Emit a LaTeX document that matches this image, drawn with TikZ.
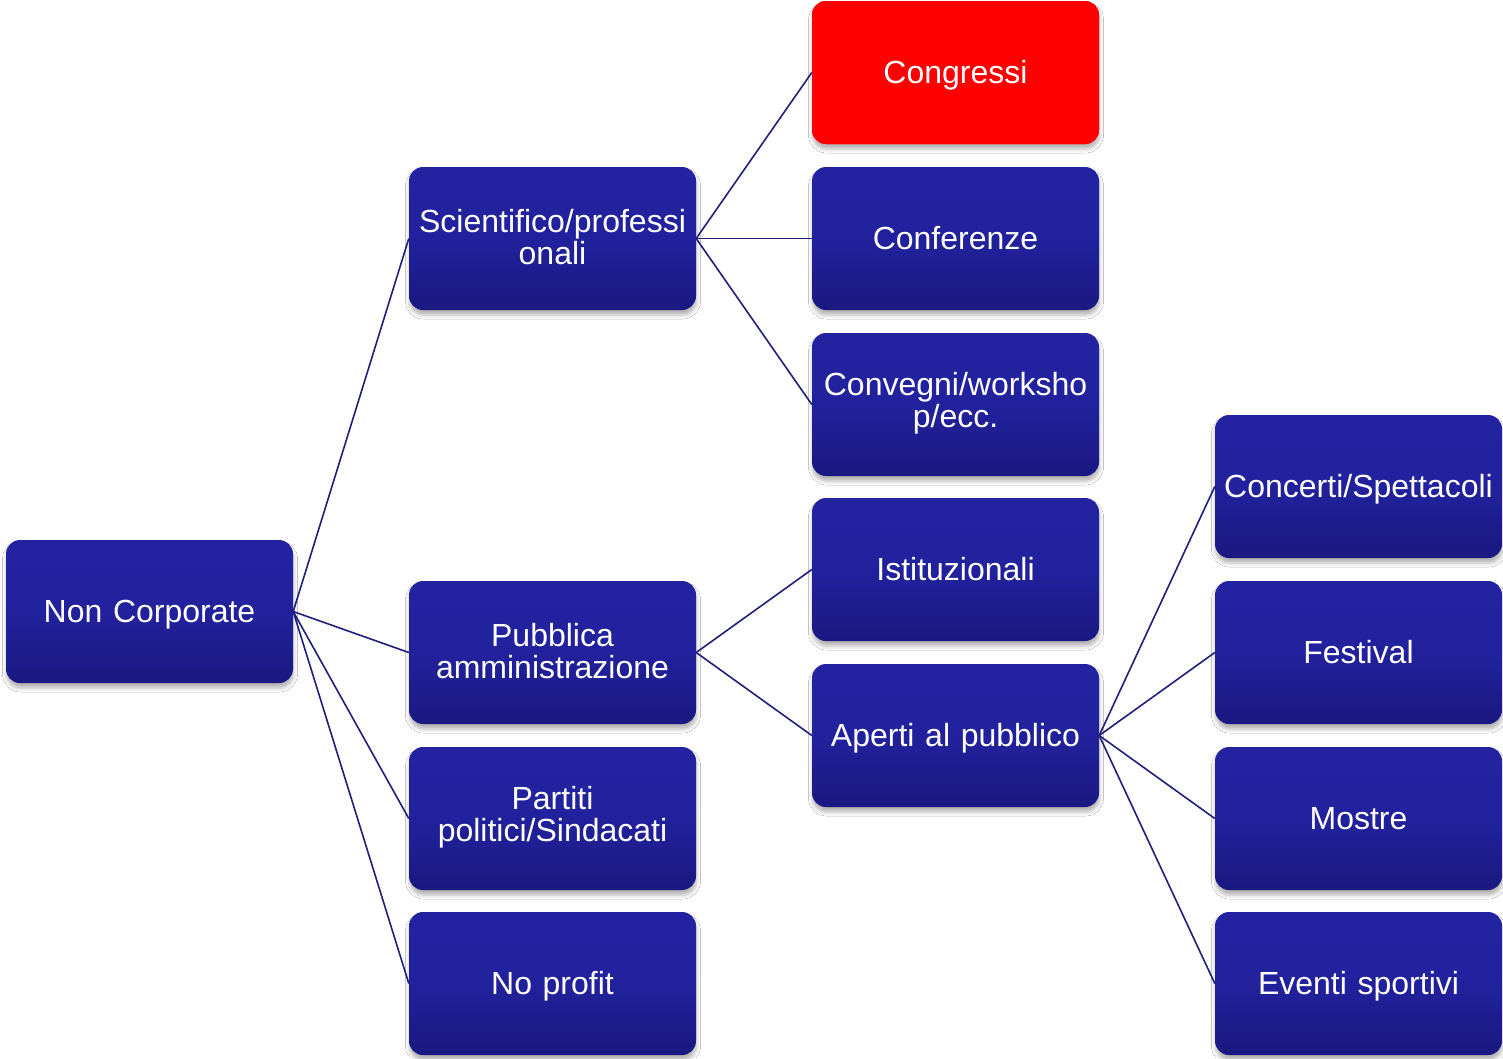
\documentclass[tikz,border=0pt]{standalone}
\usepackage{fontspec}
\setmainfont{Liberation Sans}
\usetikzlibrary{shadows.blur}
\definecolor{boxtop}{HTML}{2323A2}
\definecolor{boxbot}{HTML}{1A1880}
\definecolor{linkcol}{HTML}{20207A}
\definecolor{hotred}{HTML}{FF0000}
% a box with a one-line caption, on a baseline just below the centre
\newcommand\catbox[4][]{%
  \node[box,#1] (#2) at (#3) {};
  \node[boxtext, anchor=base] (#2-txt) at ([yshift=-10.5pt]#2.center) {#4};}
% a box with a two-line caption
\newcommand\catboxtwo[4][]{%
  \node[box,#1] (#2) at (#3) {};
  \node[boxtext] (#2-txt) at ([yshift=1.5pt]#2.center) {#4};}
\begin{document}
\begin{tikzpicture}[x=1pt,y=-1pt,
  box/.style={rectangle, rounded corners=14pt, minimum width=287pt, minimum height=143pt,
    inner sep=0pt,
    top color=boxtop, bottom color=boxbot, middle color=boxtop!85!boxbot,
    blur shadow={shadow xshift=0.5pt, shadow yshift=-5pt, shadow blur radius=4pt, shadow opacity=30}},
  hot/.style={fill=hotred, top color=hotred, bottom color=hotred, middle color=hotred},
  boxtext/.style={inner sep=0pt, text width=285pt, align=center, text=white,
    font=\fontsize{32}{32}\selectfont},
  link/.style={draw=linkcol, line width=1.6pt}]
\useasboundingbox (0,0) rectangle (1503,1058);
\fill[white] (0,0) rectangle (1503,1058);

% root
\catbox{root}{149.5,611.5}{Non Corporate}

% second level
\catboxtwo{sci}{552.5,238.5}{Scientifico/professi\\onali}
\catboxtwo{pa}{552.5,652.5}{Pubblica\\amministrazione}
\catboxtwo{par}{552.5,818.5}{Partiti\\politici/Sindacati}
\catbox{np}{552.5,983.5}{No profit}

% third level
\catbox[hot]{cong}{955.5,72.5}{Congressi}
\catbox{conf}{955.5,238.5}{Conferenze}
\catboxtwo{conv}{955.5,404.5}{Convegni/worksho\\p/ecc.}
\catbox{ist}{955.5,569.5}{Istituzionali}
\catbox{ape}{955.5,735.5}{Aperti al pubblico}

% fourth level
\catbox{conc}{1358.5,486.5}{Concerti/Spettacoli}
\catbox{fest}{1358.5,652.5}{Festival}
\catbox{most}{1358.5,818.5}{Mostre}
\catbox{ev}{1358.5,983.5}{Eventi sportivi}

% connectors
\foreach \c in {sci,pa,par,np} \draw[link] (root.east) -- (\c.west);
\foreach \c in {cong,conf,conv} \draw[link] (sci.east) -- (\c.west);
\foreach \c in {ist,ape} \draw[link] (pa.east) -- (\c.west);
\foreach \c in {conc,fest,most,ev} \draw[link] (ape.east) -- (\c.west);
\end{tikzpicture}
\end{document}
